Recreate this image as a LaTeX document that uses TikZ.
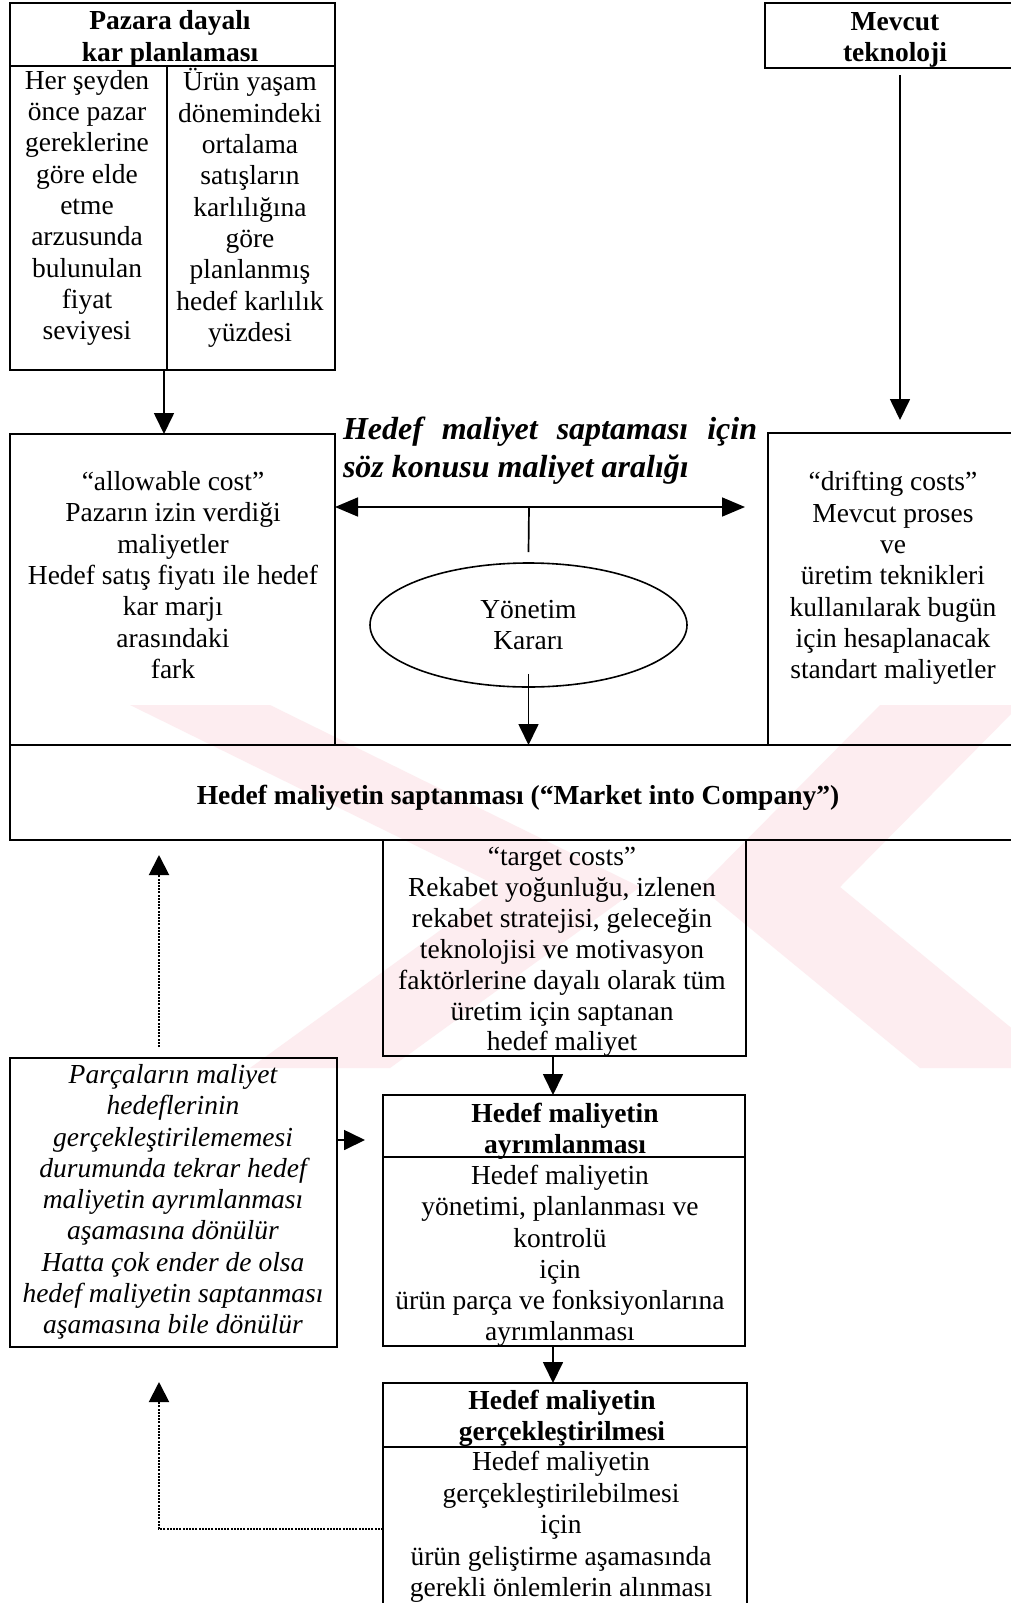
\documentclass[tikz,border=0pt]{standalone}
\usepackage{fontspec}
\setmainfont{Liberation Serif}
\usetikzlibrary{arrows.meta,shapes.geometric,calc}

\definecolor{wmark}{RGB}{253,237,240}
\newcommand\bodyfont{\fontsize{27.5}{31.3}\selectfont}
\newcommand\rangefont{\fontsize{32}{38}\selectfont\bfseries\itshape}

\begin{document}
\begin{tikzpicture}[x=1pt,y=-1pt,
  frame/.style={draw, line width=1.7pt, rectangle, inner sep=0pt, outer sep=0pt},
  rule/.style={line width=1.7pt},
  txt/.style={align=center, inner sep=0pt, font=\bodyfont},
  head/.style={txt, font=\bodyfont\bfseries},
  note/.style={txt, font=\bodyfont\itshape},
  link/.style={line width=1.7pt, -{Triangle[length=21pt,width=20pt]}},
  twoway/.style={line width=1.7pt, {Triangle[length=23pt,width=19pt]}-{Triangle[length=23pt,width=19pt]}},
  dotlink/.style={line width=2pt, dash pattern=on 2pt off 1.2pt, -{Triangle[length=20pt,width=20pt]}},
]
\useasboundingbox (0,0) rectangle (1011,1603);
\clip (0,0) rectangle (1011,1603);
\fill[white] (0,0) rectangle (1011,1603);

% pale logo in the background
\fill[wmark] (130,705) -- (270,705) -- (640,887) -- (390,1068) -- (250,1068) -- (500,887) -- cycle;
\fill[wmark] (880,705) -- (1020,705) -- (840,887) -- (1060,1068) -- (920,1068) -- (700,887) -- cycle;

% ---------- top row ----------
\node[frame, minimum width=325pt, minimum height=367pt] (plan) at (172.5,186.5) {};
\draw[rule] (plan.west |- 0,66) -- (plan.east |- 0,66);
\draw[rule] (167,66) -- (plan.south -| 167,0);
\node[head] (plantitle) at (170,39) {Pazara dayalı\\kar planlaması};
\node[txt] (planleft) at (87,208) {Her şeyden\\önce pazar\\gereklerine\\göre elde\\etme\\arzusunda\\bulunulan\\fiyat\\seviyesi};
\node[txt] (planright) at (250,208) {Ürün yaşam\\dönemindeki\\ortalama\\satışların\\karlılığına\\göre\\planlanmış\\hedef karlılık\\yüzdesi};

\node[frame, minimum width=275pt, minimum height=65pt] (tech) at (902.5,35.5) {};
\node[head] (techtitle) at (895,40) {Mevcut\\teknoloji};

% ---------- cost range ----------
\node[frame, minimum width=325pt, minimum height=311pt] (allow) at (172.5,589.5) {};
\node[txt] (allowtxt) at (173,575) {“allowable cost”\\Pazarın izin verdiği\\maliyetler\\Hedef satış fiyatı ile hedef\\kar marjı\\arasındaki\\fark};

\node[frame, minimum width=272pt, minimum height=312pt] (drift) at (904,589) {};
\node[txt] (drifttxt) at (893,578) {“drifting costs”\\Mevcut proses\\ve\\üretim teknikleri\\kullanılarak bugün\\için hesaplanacak\\standart maliyetler};

\node[font=\rangefont, align=left, inner sep=0pt] (rangetitle) at (550,451)
  {\hbox to 414pt{Hedef\hfill maliyet\hfill saptaması\hfill için}\\söz konusu maliyet aralığı};

\node[draw, ellipse, line width=1.6pt, minimum width=317pt, minimum height=124pt, inner sep=0pt, font=\bodyfont, align=center] (karar) at (528.5,625) {Yönetim\\Kararı};

\coordinate (rangeR) at (745,507);
\coordinate (rangeM) at (529,507);

% ---------- target cost ----------
\node[frame, minimum width=1030pt, minimum height=95pt] (setting) at (525,792.5) {};
\node[head] (settingtxt) at (518,798) {Hedef maliyetin saptanması (“Market into Company”)};

\node[frame, minimum width=363pt, minimum height=216pt] (target) at (564.5,948) {};
\node[txt, font=\fontsize{27.5}{30.9}\selectfont] (targettxt) at (562,952) {“target costs”\\Rekabet yoğunluğu, izlenen\\rekabet stratejisi, geleceğin\\teknolojisi ve motivasyon\\faktörlerine dayalı olarak tüm\\üretim için saptanan\\hedef maliyet};

\node[frame, minimum width=362pt, minimum height=251pt] (split) at (564,1220.5) {};
\draw[rule] (split.west |- 0,1157) -- (split.east |- 0,1157);
\node[head] (splittitle) at (565,1131) {Hedef maliyetin\\ayrımlanması};
\node[txt] (splittxt) at (560,1256) {Hedef maliyetin\\yönetimi, planlanması ve\\kontrolü\\için\\ürün parça ve fonksiyonlarına\\ayrımlanması};

\node[frame, minimum width=364pt, minimum height=242pt] (reach) at (565,1504) {};
\draw[rule] (reach.west |- 0,1447) -- (reach.east |- 0,1447);
\node[head] (reachtitle) at (562,1418) {Hedef maliyetin\\gerçekleştirilmesi};
\node[txt, font=\fontsize{27.5}{31.6}\selectfont] (reachtxt) at (561,1527) {Hedef maliyetin\\gerçekleştirilebilmesi\\için\\ürün geliştirme aşamasında\\gerekli önlemlerin alınması};

\node[frame, minimum width=327pt, minimum height=289pt] (back) at (173.5,1202.5) {};
\node[note] (backtxt) at (173,1202) {Parçaların maliyet\\hedeflerinin\\gerçekleştirilememesi\\durumunda tekrar hedef\\maliyetin ayrımlanması\\aşamasına dönülür\\Hatta çok ender de olsa\\hedef maliyetin saptanması\\aşamasına bile dönülür};

% ---------- connectors ----------
\draw[link, shorten <=7pt, shorten >=13pt] (tech.south -| 900,0) -- (drift.north -| 900,0);
\draw[link] (plan.south -| 164,0) -- (allow.north -| 164,0);
\draw[twoway] (allow.east |- rangeR) -- (rangeR);
\draw[rule] (rangeM) -- ($(karar.north)+(0,-10)$);
\draw[link] ($(karar.south)+(0,-14)$) -- (karar.south |- setting.north);
\draw[link] (target.south -| 553,0) -- (split.north -| 553,0);
\draw[link] (split.south -| 553,0) -- (reach.north -| 553,0);
\draw[link, shorten >=18pt] (back.east |- 0,1140) -- (split.west |- 0,1140);
\draw[dotlink, shorten <=11pt, shorten >=15pt] (back.north -| 159,0) -- (setting.south -| 159,0);
\coordinate (loopC) at (159,1529);
\draw[dotlink, shorten >=35pt] (reach.west |- loopC) -- (loopC) -- (back.south -| loopC);
\end{tikzpicture}
\end{document}
